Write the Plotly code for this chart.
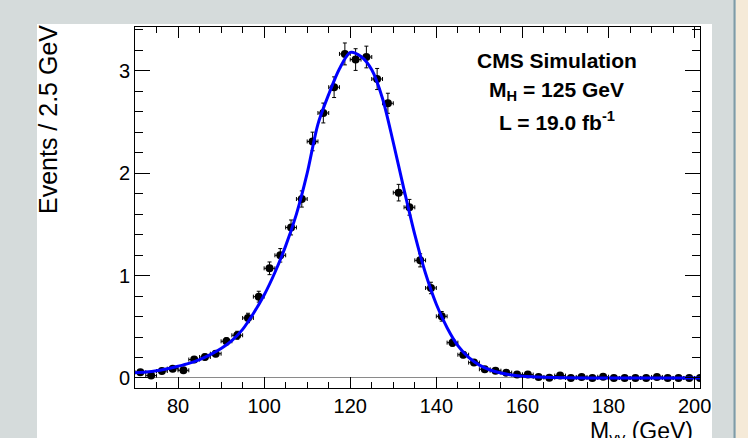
import plotly.graph_objects as go

# ---- data ----
bin_centers = [71.25, 73.75, 76.25, 78.75, 81.25, 83.75, 86.25, 88.75, 91.25, 93.75,
               96.25, 98.75, 101.25, 103.75, 106.25, 108.75, 111.25, 113.75, 116.25, 118.75,
               121.25, 123.75, 126.25, 128.75, 131.25, 133.75, 136.25, 138.75, 141.25, 143.75,
               146.25, 148.75, 151.25, 153.75, 156.25, 158.75, 161.25, 163.75, 166.25, 168.75,
               171.25, 173.75, 176.25, 178.75, 181.25, 183.75, 186.25, 188.75, 191.25, 193.75,
               196.25, 198.75, 201.25]
events = [0.056, 0.023, 0.068, 0.091, 0.075, 0.180, 0.205, 0.237, 0.358, 0.417,
          0.586, 0.794, 1.071, 1.198, 1.470, 1.748, 2.310, 2.588, 2.840, 3.165,
          3.110, 3.135, 2.920, 2.683, 1.810, 1.667, 1.149, 0.879, 0.602, 0.345,
          0.227, 0.150, 0.085, 0.071, 0.052, 0.033, 0.033, 0.010, 0.003, 0.023,
          0.0, 0.010, 0.0, 0.012, 0.0, 0.0, 0.0, 0.0, 0.010, 0.0,
          0.0, 0.0, 0.0]
event_errors = [0.014, 0.009, 0.016, 0.018, 0.016, 0.025, 0.027, 0.029, 0.036, 0.039,
                0.046, 0.053, 0.062, 0.066, 0.073, 0.079, 0.091, 0.097, 0.101, 0.107,
                0.106, 0.106, 0.103, 0.098, 0.081, 0.077, 0.064, 0.056, 0.047, 0.035,
                0.029, 0.023, 0.017, 0.016, 0.014, 0.011, 0.011, 0.006, 0.003, 0.009,
                0.0, 0.006, 0.0, 0.007, 0.0, 0.0, 0.0, 0.0, 0.006, 0.0,
                0.0, 0.0, 0.0]
bin_half_width = 1.25

fit_x = [70, 72.5, 75, 77.5, 80, 82.5, 85, 87.5, 90, 92.5, 95, 97.5, 100, 102.5, 105,
         107.5, 110, 112.5, 115, 117.5, 120, 122.5, 125, 127.5, 130, 132.5, 135, 137.5,
         140, 142.5, 145, 147.5, 150, 152.5, 155, 157.5, 160, 165, 170, 180, 190, 201.25]
fit_y = [0.052, 0.058, 0.070, 0.090, 0.115, 0.143, 0.180, 0.228, 0.288, 0.365, 0.475,
         0.630, 0.810, 1.030, 1.290, 1.600, 2.000, 2.480, 2.770, 3.020, 3.180, 3.140,
         3.010, 2.730, 2.300, 1.840, 1.400, 1.020, 0.720, 0.490, 0.315, 0.200, 0.125,
         0.078, 0.048, 0.029, 0.017, 0.006, 0.002, 0.0005, 0.0001, 0.0]

x_tickvals = [80, 100, 120, 140, 160, 180, 200]
y_tickvals = [0, 1, 2, 3]

FONT = "Liberation Sans, Arial, Helvetica, sans-serif"

fig = go.Figure()
fig.add_trace(go.Scatter(
    x=bin_centers, y=events, mode="markers",
    marker=dict(color="black", size=8, symbol="circle"),
    error_y=dict(type="data", array=event_errors, color="black", thickness=1, width=2),
    error_x=dict(type="constant", value=bin_half_width, color="black", thickness=1, width=2),
    showlegend=False, cliponaxis=True,
))
fig.add_trace(go.Scatter(
    x=fit_x, y=fit_y, mode="lines",
    line=dict(color="#0000ff", width=3, shape="spline", smoothing=0.8),
    showlegend=False,
))

def px_x(p):
    return (p - 135) / 565.0

def px_y(p):
    return (388 - p) / 361.0

shapes = [
    # white canvas
    dict(type="rect", xref="paper", yref="paper", x0=px_x(37), x1=px_x(712),
         y0=px_y(445), y1=px_y(24), fillcolor="white", line=dict(width=0), layer="below"),
    # right strip
    dict(type="rect", xref="paper", yref="paper", x0=px_x(736), x1=px_x(760),
         y0=px_y(450), y1=px_y(-10), fillcolor="#f5ead8", line=dict(width=0), layer="below"),
    dict(type="line", xref="paper", yref="paper", x0=px_x(734.5), x1=px_x(734.5),
         y0=px_y(450), y1=px_y(-10), line=dict(color="#7f9ba6", width=2), layer="below"),
]

annotations = [
    dict(text="<b>CMS Simulation</b>", x=px_x(557), y=px_y(60), xref="paper", yref="paper",
         showarrow=False, xanchor="center", yanchor="middle",
         font=dict(family=FONT, size=21, color="black")),
    dict(text="<b>M<sub>H</sub> = 125 GeV</b>", x=px_x(556), y=px_y(91), xref="paper", yref="paper",
         showarrow=False, xanchor="center", yanchor="middle",
         font=dict(family=FONT, size=21, color="black")),
    dict(text="<b>L = 19.0 fb<sup>-1</sup></b>", x=px_x(557), y=px_y(121), xref="paper", yref="paper",
         showarrow=False, xanchor="center", yanchor="middle",
         font=dict(family=FONT, size=21, color="black")),
    dict(text="Events / 2.5 GeV", textangle=-90, x=px_x(48), y=px_y(120), xref="paper", yref="paper",
         showarrow=False, xanchor="center", yanchor="middle",
         font=dict(family=FONT, size=25, color="black")),
    dict(text="M<sub>γγ</sub> (GeV)", x=px_x(695), y=px_y(416), xref="paper", yref="paper",
         showarrow=False, xanchor="right", yanchor="top",
         font=dict(family=FONT, size=23, color="black")),
]

fig.update_layout(
    width=748, height=438,
    margin=dict(l=135, r=48, t=27, b=50),
    paper_bgcolor="#d5dbdb", plot_bgcolor="white",
    shapes=shapes, annotations=annotations,
    font=dict(family=FONT, color="black"),
    xaxis=dict(range=[70, 201.25], tickvals=x_tickvals, ticks="inside", ticklen=11,
               tickwidth=1, tickcolor="black", showline=True, linecolor="black",
               linewidth=1, mirror="allticks", showgrid=False, zeroline=False,
               tickfont=dict(family=FONT, size=20, color="black"),
               minor=dict(dtick=5, tick0=70, ticks="inside", ticklen=6, tickcolor="black",
                          tickwidth=1, showgrid=False)),
    yaxis=dict(range=[-0.098, 3.428], tickvals=y_tickvals, ticks="inside", ticklen=15,
               tickwidth=1, tickcolor="black", showline=True, linecolor="black",
               linewidth=1, mirror="allticks", showgrid=False,
               zeroline=True, zerolinecolor="#8a8a8a", zerolinewidth=1,
               tickfont=dict(family=FONT, size=20, color="black"),
               minor=dict(dtick=0.2, tick0=0, ticks="inside", ticklen=8, tickcolor="black",
                          tickwidth=1, showgrid=False)),
)

fig.write_html("out.html", config={"displayModeBar": False},
               post_script="document.body.style.margin='0';document.body.style.overflow='hidden';")
